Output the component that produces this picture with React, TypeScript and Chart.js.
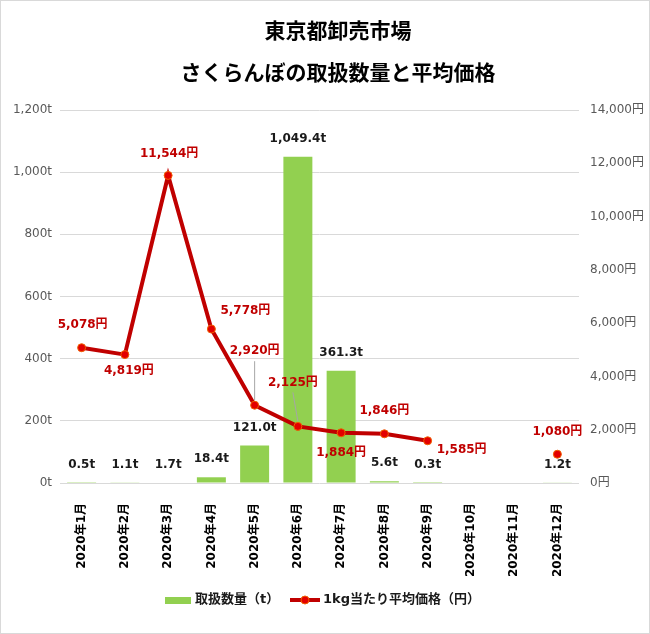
import { useEffect, useRef } from "react"
import { Chart, type ChartConfiguration, type Plugin, registerables } from "chart.js"

Chart.register(...registerables)

const months = [
  "2020年1月", "2020年2月", "2020年3月", "2020年4月", "2020年5月", "2020年6月",
  "2020年7月", "2020年8月", "2020年9月", "2020年10月", "2020年11月", "2020年12月",
]
// 取扱数量 (t)
const volumes = [0.5, 1.1, 1.7, 18.4, 121.0, 1049.4, 361.3, 5.6, 0.3, null, null, 1.2]
// 1kg当たり平均価格 (円)
const prices = [5078, 4819, 11544, 5778, 2920, 2125, 1884, 1846, 1585, null, null, 1080]

const titleLines = ["東京都卸売市場", "さくらんぼの取扱数量と平均価格"]
const volumeLabel = "取扱数量（t）"
const priceLabel = "1kg当たり平均価格（円）"

// label placement relative to each price point (dx, dy), tweaked by hand
const priceLabelOffsets = [
  [1, -23], [4, 16], [1, -22], [34, -18], [0, -54], [-5, -44],
  [0, 20], [0, -23], [34, 9], [0, 0], [0, 0], [0, -22],
]
const leaderLines = [4, 5]

const FONT = "'DejaVu Sans', 'Noto Sans CJK JP', sans-serif"
const GREEN = "#92d050"
const RED = "#c00000"

const fmt = (v: number, digits = 0) =>
  v.toLocaleString("en-US", { minimumFractionDigits: digits, maximumFractionDigits: digits })

const decorations: Plugin = {
  id: "decorations",
  afterDatasetsDraw(chart) {
    const ctx = chart.ctx
    const barMeta = chart.getDatasetMeta(1)
    const lineMeta = chart.getDatasetMeta(0)
    ctx.save()
    ctx.textAlign = "center"
    ctx.textBaseline = "middle"

    // bar value labels
    ctx.font = `bold 12px ${FONT}`
    ctx.fillStyle = "#1a1a1a"
    volumes.forEach((v, i) => {
      if (v == null) return
      const el = barMeta.data[i]
      ctx.fillText(`${fmt(v, 1)}t`, el.x, el.y - 18)
    })

    // leader lines
    ctx.strokeStyle = "#a6a6a6"
    ctx.lineWidth = 1
    leaderLines.forEach((i) => {
      const el = lineMeta.data[i]
      const [dx, dy] = priceLabelOffsets[i]
      ctx.beginPath()
      ctx.moveTo(el.x + dx, el.y + dy + 10)
      ctx.lineTo(el.x, el.y - 5)
      ctx.stroke()
    })

    // price labels
    ctx.fillStyle = RED
    prices.forEach((p, i) => {
      if (p == null) return
      const el = lineMeta.data[i]
      const [dx, dy] = priceLabelOffsets[i]
      ctx.fillText(`${fmt(p)}円`, el.x + dx, el.y + dy)
    })
    ctx.restore()
  },
  afterDraw(chart) {
    const ctx = chart.ctx
    ctx.save()
    // title
    ctx.fillStyle = "#000"
    ctx.textAlign = "center"
    ctx.textBaseline = "middle"
    ctx.font = `bold 21px 'Noto Sans CJK JP', sans-serif`
    ctx.fillText(titleLines[0], 337, 29)
    ctx.fillText(titleLines[1], 337, 71)

    // legend
    const ly = 599
    ctx.fillStyle = GREEN
    ctx.fillRect(164, ly - 3, 26, 7)
    ctx.font = `bold 13px ${FONT}`
    ctx.fillStyle = "#1a1a1a"
    ctx.textAlign = "left"
    ctx.fillText(volumeLabel, 194, ly)
    ctx.strokeStyle = RED
    ctx.lineWidth = 4
    ctx.beginPath()
    ctx.moveTo(289, ly)
    ctx.lineTo(319, ly)
    ctx.stroke()
    ctx.beginPath()
    ctx.arc(304, ly, 4, 0, Math.PI * 2)
    ctx.fillStyle = "#e30000"
    ctx.fill()
    ctx.lineWidth = 1
    ctx.strokeStyle = "#f06000"
    ctx.stroke()
    ctx.fillStyle = "#1a1a1a"
    ctx.fillText(priceLabel, 322, ly)
    ctx.restore()
  },
}

export default function App() {
  const chartRef = useRef<HTMLCanvasElement>(null)
  const chartInstance = useRef<Chart | null>(null)

  useEffect(() => {
    document.body.style.margin = "0"
    if (!chartRef.current) return
    if (chartInstance.current) chartInstance.current.destroy()
    const ctx = chartRef.current.getContext("2d")
    if (!ctx) return

    const config: ChartConfiguration = {
      type: "bar",
      data: {
        labels: months,
        datasets: [
          {
            type: "line",
            label: priceLabel,
            data: prices,
            yAxisID: "yPrice",
            borderColor: RED,
            borderWidth: 4,
            pointRadius: 4,
            pointBackgroundColor: "#e30000",
            pointBorderColor: "#f06000",
            pointBorderWidth: 1,
            spanGaps: false,
            order: 0,
          },
          {
            type: "bar",
            label: volumeLabel,
            data: volumes,
            yAxisID: "yVol",
            backgroundColor: GREEN,
            barPercentage: 0.67,
            categoryPercentage: 1,
            order: 1,
          },
        ] as any,
      },
      options: {
        responsive: true,
        maintainAspectRatio: false,
        animation: false,
        layout: { padding: { top: 109, left: 0, right: 0, bottom: 0 } },
        plugins: {
          legend: { display: false },
          title: { display: false },
          tooltip: { enabled: false },
        },
        scales: {
          x: {
            grid: { display: false },
            border: { display: false },
            ticks: {
              autoSkip: false,
              minRotation: 90,
              maxRotation: 90,
              padding: 12,
              color: "#000",
              font: { family: FONT, size: 12, weight: "bold" },
            },
            afterFit: (scale) => {
              scale.height = 150
            },
          },
          yVol: {
            position: "left",
            min: 0,
            max: 1200,
            grid: { color: "#d9d9d9", lineWidth: 1, drawTicks: false },
            border: { display: false },
            ticks: {
              stepSize: 200,
              padding: 8,
              color: "#595959",
              font: { family: FONT, size: 12 },
              callback: (v) => `${fmt(Number(v))}t`,
            },
            afterFit: (scale) => {
              scale.width = 59
            },
          },
          yPrice: {
            position: "right",
            min: 0,
            max: 14000,
            grid: { display: false, drawTicks: false },
            border: { display: false },
            ticks: {
              stepSize: 2000,
              padding: 11,
              color: "#595959",
              font: { family: FONT, size: 12 },
              callback: (v) => `${fmt(Number(v))}円`,
            },
            afterFit: (scale) => {
              scale.width = 70
            },
          },
        },
      },
      plugins: [decorations],
    }

    chartInstance.current = new Chart(ctx, config)
    return () => {
      if (chartInstance.current) {
        chartInstance.current.destroy()
        chartInstance.current = null
      }
    }
  }, [])

  return (
    <div style={{ width: 650, height: 634, border: "1px solid #d9d9d9", boxSizing: "border-box", background: "#fff" }}>
      <div style={{ position: "relative", width: 648, height: 632 }}>
        <canvas ref={chartRef} />
      </div>
    </div>
  )
}
